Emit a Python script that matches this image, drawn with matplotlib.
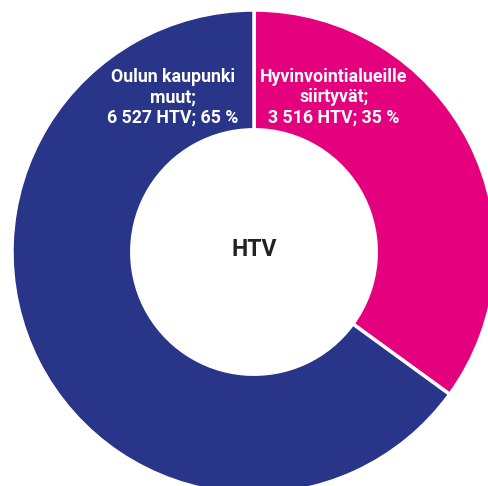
import matplotlib.pyplot as plt

# Data
labels = ["Hyvinvointialueille\nsiirtyvät;\n3 516 HTV; 35 %", "Oulun kaupunki\nmuut;\n6 527 HTV; 65 %"]
values = [3516, 6527]
colors = ["#E5007D", "#283588"]

plt.rcParams['font.family'] = ['Roboto', 'DejaVu Sans']

fig = plt.figure(figsize=(4.88, 4.86), dpi=100)
ax = fig.add_axes([0, 0, 1, 1])

ax.pie(values, colors=colors, startangle=90, counterclock=False, radius=1,
       wedgeprops=dict(width=0.495, edgecolor='white', linewidth=2.5))

# labels inside the ring
ax.text(0.33, 0.64, labels[0], ha='center', va='center', color='white',
        fontsize=12.8, fontweight='bold', linespacing=1.18)
ax.text(-0.335, 0.64, labels[1], ha='center', va='center', color='white',
        fontsize=12.8, fontweight='bold', linespacing=1.18)
ax.text(0, 0.01, "HTV", ha='center', va='center', color='#222222',
        fontsize=16.5, fontweight='bold')

px = 242
ax.set_xlim(-254 / px, (488 - 254) / px)
ax.set_ylim(-(486 - 252) / px, 252 / px)
ax.set_aspect('auto')
ax.axis('off')

plt.savefig("out.png", dpi=100)
